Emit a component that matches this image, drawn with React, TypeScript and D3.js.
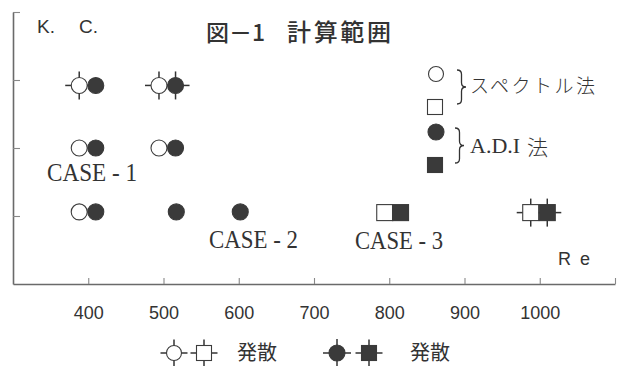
import React, { useEffect, useRef } from 'react';
import * as d3 from 'd3';

const W = 620;
const H = 366;

// Reynolds number axis
const reTicks = [400, 500, 600, 700, 800, 900, 1000, 1100];
const reTickLabels = ['400', '500', '600', '700', '800', '900', '1000', ''];
// K.C. axis
const kcTicks = [1, 2, 3, 4];

// Spectral method runs (open markers); diverged runs carry the spiky symbol
const spectralCircles = [
  { re: 388, kc: 2.92, diverged: true },
  { re: 494, kc: 2.92, diverged: true },
  { re: 388, kc: 2.0, diverged: false },
  { re: 494, kc: 2.0, diverged: false },
  { re: 388, kc: 1.06, diverged: false },
];
const spectralSquares = [
  { re: 794, kc: 1.05, diverged: false },
  { re: 988, kc: 1.05, diverged: true },
];

// A.D.I method runs (filled markers)
const adiCircles = [
  { re: 410, kc: 2.92, diverged: false },
  { re: 516, kc: 2.92, diverged: true },
  { re: 410, kc: 2.0, diverged: false },
  { re: 516, kc: 2.0, diverged: false },
  { re: 410, kc: 1.06, diverged: false },
  { re: 517, kc: 1.06, diverged: false },
  { re: 602, kc: 1.06, diverged: false },
];
const adiSquares = [
  { re: 815, kc: 1.05, diverged: false },
  { re: 1010, kc: 1.05, diverged: true },
];

const caseLabels = ['CASE - 1', 'CASE - 2', 'CASE - 3'];

const INK = '#333';
const FILL = '#3a3a3a';
const AXIS = '#6a6a6a';
const SANS = '"Liberation Sans", Arial, sans-serif';
const SERIF = '"Liberation Serif", "Times New Roman", serif';
const CJK = '"Noto Sans CJK JP", "Noto Sans", sans-serif';

const R = 8;

function spikes(cx: number, cy: number, r: number, key: string) {
  const a = r - 1;
  const b = r + 6;
  return (
    <g key={key} stroke={INK} strokeWidth={1.5}>
      <line x1={cx} y1={cy - a} x2={cx} y2={cy - b} />
      <line x1={cx} y1={cy + a} x2={cx} y2={cy + b} />
      <line x1={cx - a} y1={cy} x2={cx - b} y2={cy} />
      <line x1={cx + a} y1={cy} x2={cx + b} y2={cy} />
    </g>
  );
}

function marker(shape: 'circle' | 'square', filled: boolean, cx: number, cy: number, key: string, r = R) {
  const fill = filled ? FILL : '#fff';
  const stroke = filled ? FILL : '#3c3c3c';
  if (shape === 'circle') {
    return <circle key={key} cx={cx} cy={cy} r={r} fill={fill} stroke={stroke} strokeWidth={1.1} />;
  }
  return (
    <rect key={key} x={cx - r} y={cy - r} width={2 * r} height={2 * r} fill={fill} stroke={stroke} strokeWidth={1.1} />
  );
}

function brace(x: number, y0: number, y1: number, w: number) {
  const h = y1 - y0;
  const m = (y0 + y1) / 2;
  const xm = x + w / 2;
  return `M${x},${y0} Q${xm},${y0} ${xm},${y0 + h / 8} L${xm},${m - h / 8} Q${xm},${m} ${x + w},${m} Q${xm},${m} ${xm},${m + h / 8} L${xm},${y1 - h / 8} Q${xm},${y1} ${x},${y1}`;
}

export default function App() {
  const xAxisRef = useRef<SVGGElement>(null);
  const yAxisRef = useRef<SVGGElement>(null);

  const x = d3.scaleLinear().domain([300, 1100]).range([13, 615]);
  const y = d3.scaleLinear().domain([0, 4]).range([284, 12]);

  useEffect(() => {
    const xa = d3
      .axisBottom(x)
      .tickValues(reTicks)
      .tickSizeInner(-6)
      .tickSizeOuter(0)
      .tickPadding(22)
      .tickFormat((_d, i) => reTickLabels[i]);
    const gx = d3.select(xAxisRef.current!);
    gx.call(xa as any);
    gx.select('.domain').attr('stroke', AXIS).attr('stroke-width', 1.6);
    gx.selectAll('.tick line').attr('stroke', '#888').attr('stroke-width', 1.1);
    gx.selectAll('.tick text')
      .attr('fill', INK)
      .style('font-family', SANS)
      .style('font-size', '18px');

    const ya = d3
      .axisLeft(y)
      .tickValues(kcTicks)
      .tickSizeInner(-7)
      .tickSizeOuter(0)
      .tickFormat(() => '');
    const gy = d3.select(yAxisRef.current!);
    gy.call(ya as any);
    gy.select('.domain').attr('stroke', AXIS).attr('stroke-width', 1.6);
    gy.selectAll('.tick line').attr('stroke', '#888').attr('stroke-width', 1.1);
  }, []);

  const allSeries = [
    { data: spectralCircles, shape: 'circle' as const, filled: false, id: 'sc' },
    { data: spectralSquares, shape: 'square' as const, filled: false, id: 'ss' },
    { data: adiCircles, shape: 'circle' as const, filled: true, id: 'ac' },
    { data: adiSquares, shape: 'square' as const, filled: true, id: 'as' },
  ];

  return (
    <svg width={W} height={H} style={{ position: 'absolute', left: 0, top: 0, background: '#fff' }}>
      <rect width={W} height={H} fill="#fff" />
      <g ref={xAxisRef} transform={`translate(0,${y(0)})`} />
      <g ref={yAxisRef} transform={`translate(${x(300)},0)`} />

      {/* divergence spikes sit underneath the markers */}
      {allSeries.map((s) =>
        s.data.filter((d) => d.diverged).map((d, i) => spikes(x(d.re), y(d.kc), R, `${s.id}-sp-${i}`))
      )}
      {allSeries.map((s) => s.data.map((d, i) => marker(s.shape, s.filled, x(d.re), y(d.kc), `${s.id}-${i}`)))}

      {/* titles */}
      <text x={37} y={33} fill={INK} style={{ fontFamily: SANS, fontSize: 19 }}>K.</text>
      <text x={79} y={33} fill={INK} style={{ fontFamily: SANS, fontSize: 19 }}>C.</text>
      <text x={206} y={41} fill={INK} style={{ fontFamily: CJK, fontSize: 23, fontWeight: 500 }}>図－1</text>
      <text x={287} y={41} fill={INK} textLength={104} lengthAdjust="spacing" style={{ fontFamily: CJK, fontSize: 24, fontWeight: 500 }}>
        計算範囲
      </text>
      <text x={558} y={265} fill={INK} style={{ fontFamily: SANS, fontSize: 18 }}>R</text>
      <text x={580} y={265} fill={INK} style={{ fontFamily: SANS, fontSize: 18 }}>e</text>

      {/* case annotations */}
      <text x={47} y={181} fill={INK} textLength={90} lengthAdjust="spacingAndGlyphs" style={{ fontFamily: SERIF, fontSize: 25 }}>
        {caseLabels[0]}
      </text>
      <text x={209} y={248} fill={INK} textLength={89} lengthAdjust="spacingAndGlyphs" style={{ fontFamily: SERIF, fontSize: 25 }}>
        {caseLabels[1]}
      </text>
      <text x={355} y={249} fill={INK} textLength={88} lengthAdjust="spacingAndGlyphs" style={{ fontFamily: SERIF, fontSize: 25 }}>
        {caseLabels[2]}
      </text>

      {/* method key */}
      {marker('circle', false, 436, 74, 'k1', 7.5)}
      {marker('square', false, 435, 107, 'k2', 7.5)}
      {marker('circle', true, 436, 132, 'k3', 8)}
      {marker('square', true, 435, 165, 'k4', 7.5)}
      <path d={brace(457, 70, 104, 9)} fill="none" stroke={INK} strokeWidth={1.3} />
      <path d={brace(455, 128, 163, 9)} fill="none" stroke={INK} strokeWidth={1.3} />
      <text x={470} y={93} fill={INK} textLength={125} lengthAdjust="spacing" style={{ fontFamily: CJK, fontSize: 19, fontWeight: 300 }}>
        スペクトル法
      </text>
      <text x={470} y={153} fill={INK} style={{ fontFamily: SERIF, fontSize: 22 }}>A.D.I</text>
      <text x={527} y={155} fill={INK} style={{ fontFamily: CJK, fontSize: 21, fontWeight: 300 }}>法</text>

      {/* divergence key */}
      {spikes(174, 353, 7.5, 'd1')}
      {spikes(204, 353, 7.5, 'd2')}
      {marker('circle', false, 174, 353, 'd1m', 7.5)}
      {marker('square', false, 204, 353, 'd2m', 7.5)}
      <text x={237} y={360} fill={INK} style={{ fontFamily: CJK, fontSize: 20 }}>発散</text>
      {spikes(337, 353, 8, 'd3')}
      {spikes(369, 353, 7.5, 'd4')}
      {marker('circle', true, 337, 353, 'd3m', 8)}
      {marker('square', true, 369, 353, 'd4m', 7.5)}
      <text x={410} y={360} fill={INK} style={{ fontFamily: CJK, fontSize: 20 }}>発散</text>
    </svg>
  );
}
